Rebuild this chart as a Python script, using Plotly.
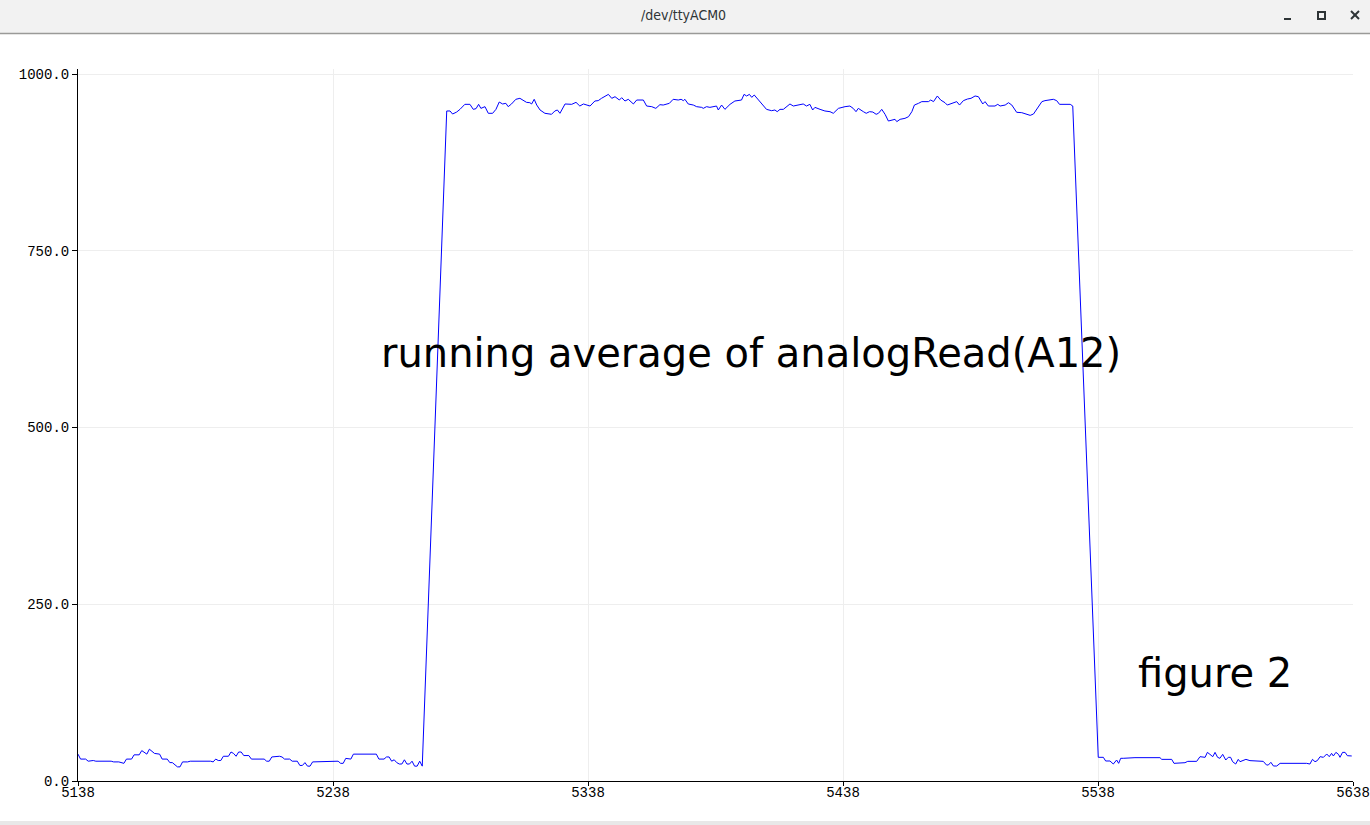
import plotly.graph_objects as go

# ---- data ----
low1_x = [5138, 5139, 5141, 5142, 5144, 5145, 5151, 5152, 5154, 5156, 5157, 5159, 5160, 5162,
          5163, 5164, 5165, 5166, 5168, 5170, 5171, 5173, 5174, 5175, 5177, 5178, 5179, 5181,
          5182, 5190, 5191, 5192, 5193, 5194, 5195, 5197, 5198, 5199, 5200, 5201, 5202, 5203,
          5205, 5206, 5211, 5212, 5213, 5214, 5217, 5218, 5219, 5221, 5222, 5224, 5225, 5226,
          5227, 5228, 5229, 5230, 5231, 5233, 5240, 5241, 5242, 5243, 5245, 5246, 5253, 5254,
          5255, 5256, 5258, 5259, 5260, 5261, 5262, 5263, 5264, 5265, 5266, 5267, 5268, 5269,
          5270, 5271, 5272, 5273]
low1_y = [38, 31, 31, 28, 29, 28, 28, 27, 27, 25, 31, 31, 37, 37,
          43, 41, 38, 45, 39, 38, 31, 31, 26, 26, 20, 20, 27, 27,
          28, 28, 27, 31, 29, 29, 35, 35, 41, 39, 35, 41, 41, 36,
          36, 31, 31, 28, 28, 34, 35, 34, 31, 31, 28, 28, 22, 22,
          26, 21, 21, 27, 27, 28, 28, 25, 25, 32, 31, 38, 38, 37,
          38, 31, 31, 34, 34, 28, 30, 26, 24, 24, 30, 24, 24, 28,
          21, 21, 28, 21]

high_x = [5282.6, 5283.9, 5284.9, 5286.5, 5287.8, 5289.7, 5291.7, 5293.0, 5294.1, 5295.1,
          5296.0, 5297.6, 5298.9, 5300.6, 5301.9, 5303.2, 5304.5, 5305.8, 5306.7, 5308.0,
          5309.7, 5311.3, 5312.6, 5313.9, 5315.2, 5315.9, 5316.9, 5317.9, 5319.2, 5321.1,
          5323.7, 5325.0, 5326.0, 5327.0, 5329.0, 5331.6, 5333.3, 5334.8, 5336.2, 5337.5,
          5338.8, 5340.7, 5342.0, 5343.3, 5346.0, 5347.3, 5348.6, 5350.3, 5351.2, 5352.5,
          5353.8, 5355.8, 5357.1, 5359.7, 5361.0, 5363.0, 5364.6, 5366.2, 5367.5, 5369.9,
          5371.4, 5373.4, 5374.5, 5375.4, 5376.0, 5377.3, 5379.3, 5380.6, 5382.6, 5383.2,
          5384.5, 5385.8, 5388.4, 5389.1, 5390.4, 5391.7, 5393.7, 5395.6, 5398.2, 5399.2,
          5400.2, 5401.3, 5402.2, 5403.2, 5404.4, 5406.1, 5408.0, 5410.0, 5411.3, 5412.2,
          5413.3, 5414.6, 5417.2, 5418.5, 5421.1, 5422.4, 5423.7, 5425.0, 5426.1, 5427.0,
          5429.0, 5430.9, 5432.9, 5434.2, 5436.2, 5437.5, 5438.8, 5440.7, 5442.0, 5443.1,
          5444.0, 5446.0, 5447.1, 5448.4, 5449.7, 5451.0, 5451.9, 5453.2, 5454.5, 5455.8,
          5457.1, 5458.4, 5459.1, 5460.4, 5462.3, 5463.7, 5465.0, 5466.0, 5467.6, 5468.9,
          5471.5, 5472.4, 5473.5, 5475.0, 5476.3, 5478.0, 5478.9, 5481.3, 5482.6, 5483.7,
          5485.2, 5486.8, 5488.2, 5489.8, 5491.1, 5492.8, 5493.7, 5495.0, 5497.6, 5498.7,
          5499.6, 5501.6, 5502.9, 5504.2, 5506.1, 5508.1, 5509.8, 5511.4, 5512.7, 5514.0,
          5516.0, 5517.2, 5518.6, 5520.5, 5521.8, 5522.9, 5527.1, 5528.1]
high_y = [947.7, 947.7, 943.4, 946.2, 950.0, 957.1, 957.1, 950.0, 951.0, 957.1,
          951.4, 953.8, 944.4, 944.4, 950.0, 960.4, 957.6, 958.5, 953.8, 957.6,
          964.2, 965.6, 963.2, 959.9, 959.4, 957.6, 964.2, 956.1, 949.1, 944.4,
          943.0, 947.7, 949.1, 944.4, 957.6, 957.1, 959.9, 954.7, 957.6, 956.1,
          954.7, 961.8, 962.3, 965.6, 971.2, 965.6, 967.9, 963.2, 966.5, 961.8,
          964.2, 957.6, 963.2, 963.2, 954.7, 953.8, 951.4, 956.6, 956.1, 958.5,
          964.2, 963.2, 964.2, 962.3, 964.2, 957.6, 956.1, 953.8, 952.8, 951.4,
          953.8, 952.8, 954.7, 949.1, 956.1, 950.0, 957.1, 961.8, 963.2, 971.2,
          968.9, 971.2, 967.0, 970.3, 965.6, 957.6, 950.0, 948.1, 949.1, 946.7,
          950.0, 950.0, 957.6, 954.7, 957.1, 957.6, 954.7, 957.1, 949.1, 952.8,
          950.0, 947.7, 946.7, 944.4, 951.4, 952.8, 953.8, 954.7, 951.4, 946.7,
          951.4, 946.7, 944.4, 946.7, 946.2, 943.0, 944.4, 950.0, 943.0, 933.5,
          934.9, 935.9, 932.6, 935.9, 937.3, 939.6, 946.7, 956.1, 958.5, 960.9,
          960.9, 963.2, 960.9, 968.9, 963.2, 959.4, 956.1, 958.5, 960.9, 956.1,
          962.3, 964.6, 965.6, 968.9, 967.9, 957.6, 960.9, 954.7, 954.7, 957.1,
          954.7, 956.1, 959.4, 956.1, 945.8, 945.3, 943.0, 941.5, 943.4, 950.0,
          960.9, 962.3, 963.2, 964.2, 962.3, 957.1, 957.1, 954.7]

low2_x = [5538.1, 5540.1, 5541.0, 5542.7, 5544.0, 5545.3, 5546.1, 5546.9, 5547.9, 5552.5,
          5562.3, 5563.0, 5566.9, 5567.8, 5572.1, 5573.2, 5576.7, 5578.0, 5580.0, 5580.9,
          5581.9, 5583.0, 5583.9, 5584.9, 5585.8, 5586.9, 5588.1, 5589.1, 5590.0, 5590.8,
          5592.0, 5593.0, 5593.7, 5595.0, 5596.0, 5597.6, 5598.9, 5600.2, 5602.8, 5604.1,
          5604.8, 5605.8, 5606.8, 5608.1, 5609.4, 5619.8, 5621.1, 5622.1, 5623.1, 5624.0,
          5625.1, 5626.4, 5627.7, 5628.7, 5629.6, 5630.3, 5631.3, 5632.3, 5632.9, 5633.9,
          5634.9, 5635.8, 5636.8, 5637.5]
low2_y = [33.5, 33.5, 28.3, 28.3, 24.0, 29.7, 25.0, 32.1, 32.1, 33.0,
          33.0, 30.6, 30.6, 25.0, 25.9, 27.8, 27.8, 34.4, 33.5, 40.5,
          37.7, 34.4, 40.5, 33.5, 32.1, 37.7, 29.7, 33.5, 33.5, 27.3,
          24.0, 30.6, 27.3, 29.7, 30.6, 28.8, 28.8, 27.8, 27.8, 22.6,
          22.6, 26.4, 21.2, 21.2, 25.0, 25.0, 24.0, 30.6, 27.3, 28.8,
          34.4, 33.5, 38.2, 34.4, 39.1, 35.4, 40.5, 37.7, 33.5, 40.5,
          40.5, 35.8, 35.4, 35.4]

x_vals = low1_x + high_x + low2_x
y_vals = low1_y + high_y + low2_y

x_ticks = [5138, 5238, 5338, 5438, 5538, 5638]
y_ticks = [0.0, 250.0, 500.0, 750.0, 1000.0]
window_title = "/dev/ttyACM0"
caption_main = "running average of analogRead(A12)"
caption_fig = "figure 2"

# ---- figure ----
W, H = 1370, 825
L, R, T, B = 78, 17, 69, 44
pw, ph = W - L - R, H - T - B
ymax = 1000 * ph / (ph - 5)


def px(xp):
    return (xp - L) / pw


def py(yp):
    return (H - B - yp) / ph


fig = go.Figure()
fig.add_trace(go.Scatter(x=x_vals, y=y_vals, mode="lines",
                         line=dict(color="#0000ff", width=1), hoverinfo="skip"))

mono = dict(family="Liberation Mono, DejaVu Sans Mono, monospace", size=14, color="#000000")

fig.update_layout(
    width=W, height=H,
    margin=dict(l=L, r=R, t=T, b=B, pad=0, autoexpand=False),
    paper_bgcolor="white", plot_bgcolor="white",
    showlegend=False,
    xaxis=dict(range=[5138, 5638], tickvals=x_ticks, ticktext=[str(v) for v in x_ticks],
               showgrid=True, gridcolor="#eeeeee", gridwidth=1, zeroline=False,
               showline=True, linecolor="black", linewidth=1, automargin=False,
               ticks="outside", ticklen=4, tickcolor="black", tickfont=mono,
               ticklabelstandoff=-6),
    yaxis=dict(range=[0, ymax], tickvals=y_ticks, ticktext=["%.1f" % v for v in y_ticks],
               showgrid=True, gridcolor="#eeeeee", gridwidth=1, zeroline=False,
               showline=True, linecolor="black", linewidth=1, automargin=False,
               ticks="outside", ticklen=5, tickcolor="black", tickfont=mono),
)

# window chrome
fig.add_shape(type="rect", xref="paper", yref="paper", x0=px(0), x1=px(W), y0=py(33), y1=py(0),
              fillcolor="#f2f2f2", line_width=0, layer="below")
fig.add_shape(type="line", xref="paper", yref="paper", x0=px(0), x1=px(W), y0=py(33.5), y1=py(33.5),
              line=dict(color="#9a9a98", width=1.5))
fig.add_shape(type="rect", xref="paper", yref="paper", x0=px(0), x1=px(W), y0=py(H), y1=py(821),
              fillcolor="#e8e8e8", line_width=0)
# window buttons
fig.add_shape(type="line", xref="paper", yref="paper", x0=px(1284), x1=px(1291), y0=py(19), y1=py(19),
              line=dict(color="#2e3436", width=2))
fig.add_shape(type="rect", xref="paper", yref="paper", x0=px(1318), x1=px(1325), y0=py(19), y1=py(12),
              line=dict(color="#2e3436", width=2), fillcolor="rgba(0,0,0,0)")
fig.add_shape(type="line", xref="paper", yref="paper", x0=px(1351), x1=px(1359), y0=py(19), y1=py(11),
              line=dict(color="#2e3436", width=2))
fig.add_shape(type="line", xref="paper", yref="paper", x0=px(1351), x1=px(1359), y0=py(11), y1=py(19),
              line=dict(color="#2e3436", width=2))

fig.add_annotation(text=window_title, xref="paper", yref="paper", x=px(683), y=py(15),
                   showarrow=False, xanchor="center", yanchor="middle",
                   font=dict(family="DejaVu Sans Condensed, DejaVu Sans, sans-serif", size=14, color="#2e3436"))

fig.add_annotation(text=caption_main, x=5402, y=606, xref="x", yref="y", showarrow=False,
                   xanchor="center", yanchor="middle",
                   font=dict(family="DejaVu Sans, sans-serif", size=40, color="black"))
fig.add_annotation(text=caption_fig, x=5584, y=153, xref="x", yref="y", showarrow=False,
                   xanchor="center", yanchor="middle",
                   font=dict(family="DejaVu Sans, sans-serif", size=40, color="black"))

fig.write_html("out.html", config={"displayModeBar": False},
               post_script="document.body.style.margin='0';document.body.style.overflow='hidden';")
